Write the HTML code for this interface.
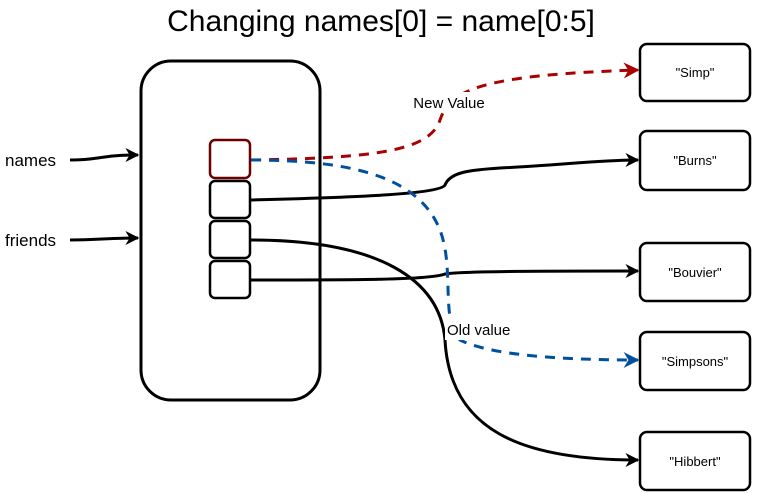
<!DOCTYPE html>
<html><head><style>body{margin:0;background:#fff}svg{display:block}text{font-family:"Liberation Sans",Arial,sans-serif}</style></head><body>
<svg width="763" height="493" viewBox="0 0 763 493" xmlns="http://www.w3.org/2000/svg">
<defs>
<marker id="ak" viewBox="0 0 10 10" refX="9" refY="5" markerWidth="14" markerHeight="14" orient="auto" markerUnits="userSpaceOnUse"><path d="M0,0 L10,5 L0,10 L3,5 Z" fill="#000"/></marker>
<marker id="ar" viewBox="0 0 10 10" refX="9" refY="5" markerWidth="16" markerHeight="16" orient="auto" markerUnits="userSpaceOnUse"><path d="M0,0 L10,5 L0,10 L3,5 Z" fill="#a00"/></marker>
<marker id="ab" viewBox="0 0 10 10" refX="9" refY="5" markerWidth="16" markerHeight="16" orient="auto" markerUnits="userSpaceOnUse"><path d="M0,0 L10,5 L0,10 L3,5 Z" fill="#0050a0"/></marker>
</defs>
<text x="381" y="31" font-size="30" text-anchor="middle">Changing names[0] = name[0:5]</text>
<rect x="141" y="61" width="179" height="339" rx="30" fill="none" stroke="#000" stroke-width="3"/>
<g fill="none" stroke-width="2.5">
<rect x="210" y="140" width="40" height="38" rx="5" stroke="#6b0000"/>
<rect x="210" y="181" width="40" height="37" rx="5" stroke="#000"/>
<rect x="210" y="221" width="40" height="37" rx="5" stroke="#000"/>
<rect x="210" y="261" width="40" height="37" rx="5" stroke="#000"/>
</g>
<g fill="none" stroke="#000" stroke-width="2.5">
<rect x="640" y="44" width="110" height="57" rx="7"/>
<rect x="640" y="131" width="110" height="59" rx="7"/>
<rect x="640" y="243" width="110" height="58" rx="7"/>
<rect x="640" y="332" width="110" height="58" rx="7"/>
<rect x="640" y="432" width="110" height="58" rx="7"/>
</g>
<g font-size="13" text-anchor="middle">
<text x="695" y="77">"Simp"</text>
<text x="695" y="165">"Burns"</text>
<text x="695" y="277">"Bouvier"</text>
<text x="695" y="366">"Simpsons"</text>
<text x="695" y="466">"Hibbert"</text>
</g>
<g font-size="17"><text x="5" y="166">names</text><text x="5" y="246">friends</text></g>
<g fill="none" stroke="#000" stroke-width="3">
<path d="M70,160 C100,160 100,155 138,155" marker-end="url(#ak)"/>
<path d="M70,240 C100,240 100,238 138,238" marker-end="url(#ak)"/>
<path d="M251,200 C330,198 440,195 445,185 C450,172 470,170 500,168 C560,165 600,160 638,160" marker-end="url(#ak)"/>
<path d="M251,280 C350,280 430,280 445,274 C460,271 560,271 638,271" marker-end="url(#ak)"/>
<path d="M251,240 C380,240 440,280 445,340 C450,430 520,460 638,460" marker-end="url(#ak)"/>
</g>
<path d="M251,160 C380,158 430,150 440,120 C450,90 480,75 638,70" fill="none" stroke="#a00" stroke-width="3" stroke-dasharray="10,8" marker-end="url(#ar)"/>
<path d="M251,160 C360,160 420,180 440,230 C455,270 440,320 460,340 C490,355 560,360 638,360" fill="none" stroke="#0050a0" stroke-width="3" stroke-dasharray="10,8" marker-end="url(#ab)"/>
<rect x="404" y="92" width="90" height="18" fill="#fff"/>
<text x="449" y="108" font-size="15" text-anchor="middle">New Value</text>
<rect x="445" y="318" width="80" height="22" fill="#fff"/>
<text x="447" y="335" font-size="15">Old value</text>
</svg>
</body></html>
